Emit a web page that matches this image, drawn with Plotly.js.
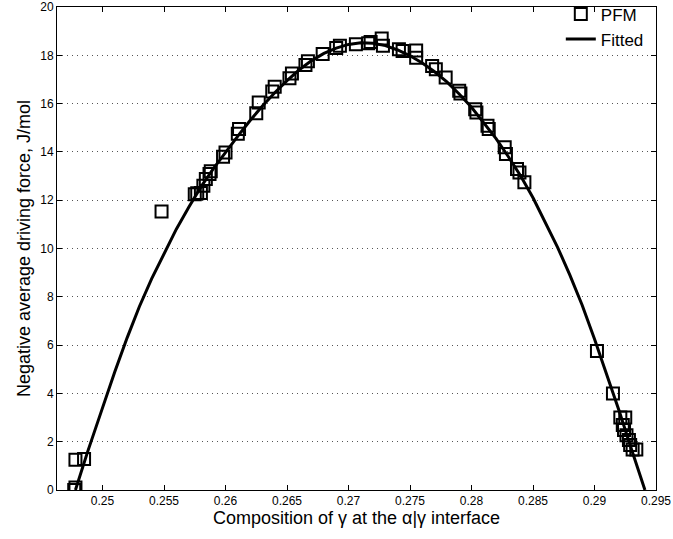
<!DOCTYPE html>
<html>
<head>
<meta charset="utf-8">
<script src="https://cdn.plot.ly/plotly-3.0.1.min.js"></script>
<style>
  html, body { margin: 0; padding: 0; background: #fff; }
  #chart { width: 673px; height: 539px; }
</style>
</head>
<body>
<div id="chart"></div>
<script>
// Phase-field (PFM) driving force samples vs interface composition
const pfmX = [0.2477, 0.2478, 0.2478, 0.2485, 0.2548, 0.2575, 0.2577, 0.2580, 0.2582, 0.2584,
              0.2587, 0.2588, 0.2598, 0.2600, 0.2610, 0.2611, 0.2625, 0.2627, 0.2638, 0.2640,
              0.2652, 0.2654, 0.2665, 0.2667, 0.2679, 0.2690, 0.2693, 0.2706, 0.2716, 0.2718,
              0.2727, 0.2728, 0.2741, 0.2744, 0.2755, 0.2755, 0.2768, 0.2771, 0.2779, 0.2790,
              0.2791, 0.2803, 0.2804, 0.2813, 0.2814, 0.2827, 0.2828, 0.2837, 0.2839, 0.2843,
              0.2902, 0.2915, 0.2921, 0.2925, 0.2923, 0.2924, 0.2926, 0.2928, 0.2929, 0.2931,
              0.2934];
const pfmY = [0.00, 0.10, 1.25, 1.28, 11.53, 12.25, 12.29, 12.30, 12.60, 12.88,
              13.08, 13.20, 13.80, 13.98, 14.75, 14.95, 15.60, 16.05, 16.50, 16.70,
              17.05, 17.25, 17.60, 17.75, 18.05, 18.30, 18.40, 18.46, 18.50, 18.55,
              18.70, 18.40, 18.25, 18.18, 18.20, 17.90, 17.56, 17.42, 17.08, 16.53,
              16.42, 15.77, 15.63, 15.08, 14.95, 14.19, 13.91, 13.29, 13.15, 12.74,
              5.76, 4.00, 3.00, 3.00, 2.69, 2.48, 2.27, 2.07, 1.86, 1.68,
              1.68];

// Fitted curve, sampled along the composition axis
const fitX = [0.2478, 0.2488, 0.2500, 0.2510, 0.2520, 0.2530, 0.2540, 0.2550, 0.2560, 0.2570,
              0.2580, 0.2590, 0.2600, 0.2610, 0.2620, 0.2630, 0.2640, 0.2650, 0.2660, 0.2670,
              0.2680, 0.2690, 0.2700, 0.2710, 0.2720, 0.2730, 0.2740, 0.2750, 0.2760, 0.2770,
              0.2780, 0.2790, 0.2800, 0.2810, 0.2820, 0.2830, 0.2840, 0.2850, 0.2860, 0.2870,
              0.2880, 0.2890, 0.2900, 0.2910, 0.2920, 0.2930, 0.2941];
const fitY = [0.0, 1.6, 3.4, 4.9, 6.3, 7.6, 8.75, 9.8, 10.8, 11.7,
              12.55, 13.3, 14.0, 14.65, 15.3, 15.9, 16.45, 16.95, 17.4, 17.78,
              18.08, 18.3, 18.45, 18.52, 18.5, 18.4, 18.22, 17.98, 17.68, 17.32,
              16.9, 16.4, 15.85, 15.22, 14.55, 13.8, 13.0, 12.1, 11.1, 10.05,
              8.9, 7.65, 6.25, 4.8, 3.28, 1.7, 0.0];

const xTicks = [0.25, 0.255, 0.26, 0.265, 0.27, 0.275, 0.28, 0.285, 0.29, 0.295];
const xTickText = ['0.25', '0.255', '0.26', '0.265', '0.27', '0.275', '0.28', '0.285', '0.29', '0.295'];
const yTicks = [0, 2, 4, 6, 8, 10, 12, 14, 16, 18, 20];
const yTickText = ['0', '2', '4', '6', '8', '10', '12', '14', '16', '18', '20'];

const font = 'Liberation Sans, Arial, Helvetica, sans-serif';

const traces = [
  {
    x: pfmX, y: pfmY, name: 'PFM', type: 'scatter', mode: 'markers',
    marker: { symbol: 'square-open', size: 12, color: '#000', line: { width: 2, color: '#000' } }
  },
  {
    x: fitX, y: fitY, name: 'Fitted', type: 'scatter', mode: 'lines',
    line: { color: '#000', width: 3 }
  }
];

const axisCommon = {
  showline: true, linecolor: '#000', linewidth: 1, mirror: 'ticks',
  ticks: 'inside', ticklen: 5, tickcolor: '#000', tickwidth: 1,
  zeroline: false, ticklabeloverflow: 'allow',
  tickfont: { family: font, size: 12, color: '#000' }
};

const layout = {
  width: 673, height: 539,
  margin: { l: 57, r: 17, t: 7, b: 49, autoexpand: false },
  paper_bgcolor: '#fff', plot_bgcolor: '#fff',
  showlegend: true,
  legend: {
    x: 0.988, xanchor: 'right', y: 1.022, yanchor: 'top',
    bgcolor: 'rgba(0,0,0,0)', borderwidth: 0,
    font: { family: font, size: 17, color: '#000' },
    tracegroupgap: 0, itemwidth: 30
  },
  xaxis: Object.assign({}, axisCommon, {
    range: [0.2463, 0.295],
    tickvals: xTicks, ticktext: xTickText,
    showgrid: false,
    title: { text: 'Composition of γ at the α|γ interface', font: { family: font, size: 18, color: '#000' }, standoff: 3 }
  }),
  yaxis: Object.assign({}, axisCommon, {
    range: [0, 20.0001],
    tickvals: yTicks, ticktext: yTickText,
    showgrid: true, gridcolor: '#555', gridwidth: 1, griddash: '1px,4px',
    title: { text: 'Negative average driving force, J/mol', font: { family: font, size: 18, color: '#000' }, standoff: 4 }
  })
};

Plotly.newPlot('chart', traces, layout, { displayModeBar: false, staticPlot: true });
</script>
</body>
</html>
